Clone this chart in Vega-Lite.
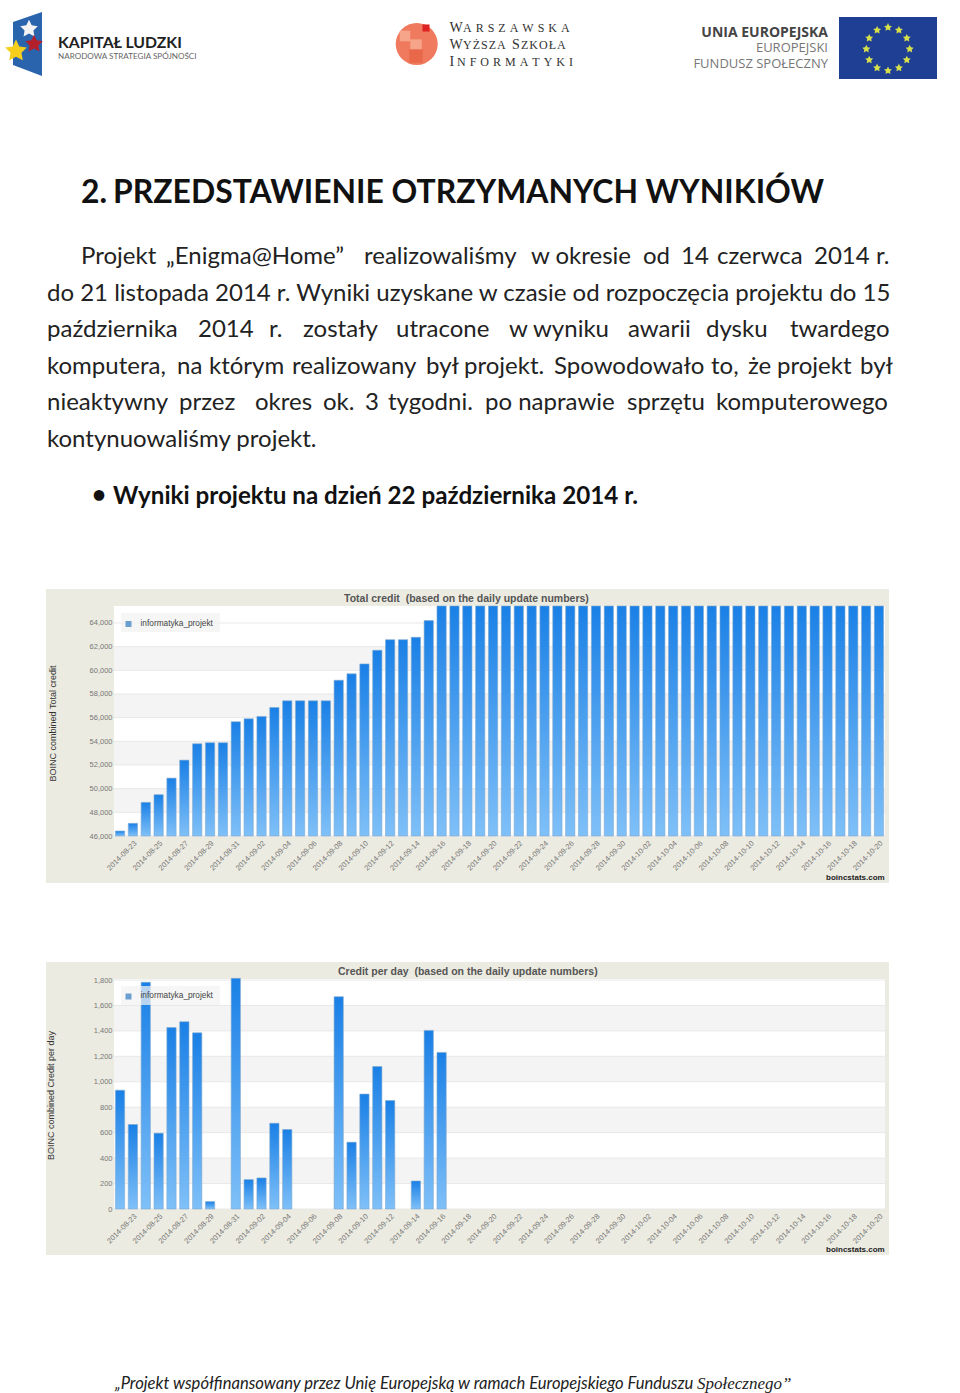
{
"$schema":"https://vega.github.io/schema/vega-lite/v6.json",
"width":960,"height":1393,"padding":0,"autosize":{"type":"none"},"background":"white",
"config":{"view":{"stroke":null}},
"datasets":{
"boxes":[
{"x0":46,"x1":889,"y0":589,"y1":883,"tone":"beige"},
{"x0":114,"x1":885,"y0":606,"y1":836,"tone":"plot"},
{"x0":46,"x1":889,"y0":962,"y1":1255,"tone":"beige"},
{"x0":114,"x1":885,"y0":979,"y1":1209,"tone":"plot"},
{"x0":839,"x1":937,"y0":17,"y1":79,"tone":"eu"}],
"bands1":[{"lo":48000,"hi":50000},{"lo":52000,"hi":54000},{"lo":56000,"hi":58000},{"lo":60000,"hi":62000}],
"bands2":[{"lo":200,"hi":400},{"lo":600,"hi":800},{"lo":1000,"hi":1200},{"lo":1400,"hi":1600}],
"ticks1":[{"v":46000},{"v":48000},{"v":50000},{"v":52000},{"v":54000},{"v":56000},{"v":58000},{"v":60000},{"v":62000},{"v":64000}],
"ticks2":[{"v":0},{"v":200},{"v":400},{"v":600},{"v":800},{"v":1000},{"v":1200},{"v":1400},{"v":1600},{"v":1800}],
"days":[
{"d":"2014-08-22","total":46420,"perday":934},{"d":"2014-08-23","total":47070,"perday":664},{"d":"2014-08-24","total":48840,"perday":1782},{"d":"2014-08-25","total":49490,"perday":596},{"d":"2014-08-26","total":50890,"perday":1426},{"d":"2014-08-27","total":52410,"perday":1472},{"d":"2014-08-28","total":53790,"perday":1385},{"d":"2014-08-29","total":53880,"perday":58},{"d":"2014-08-30","total":53880,"perday":0},{"d":"2014-08-31","total":55650,"perday":1813},
{"d":"2014-09-01","total":55900,"perday":231},{"d":"2014-09-02","total":56100,"perday":244},{"d":"2014-09-03","total":56860,"perday":674},{"d":"2014-09-04","total":57420,"perday":625},{"d":"2014-09-05","total":57420,"perday":0},{"d":"2014-09-06","total":57420,"perday":0},{"d":"2014-09-07","total":57420,"perday":0},{"d":"2014-09-08","total":59160,"perday":1669},{"d":"2014-09-09","total":59700,"perday":525},{"d":"2014-09-10","total":60540,"perday":903},
{"d":"2014-09-11","total":61690,"perday":1120},{"d":"2014-09-12","total":62590,"perday":853},{"d":"2014-09-13","total":62590,"perday":0},{"d":"2014-09-14","total":62790,"perday":220},{"d":"2014-09-15","total":64200,"perday":1404},{"d":"2014-09-16","total":65434,"perday":1231},{"d":"2014-09-17","total":65434,"perday":0},{"d":"2014-09-18","total":65434,"perday":0},{"d":"2014-09-19","total":65434,"perday":0},{"d":"2014-09-20","total":65434,"perday":0},
{"d":"2014-09-21","total":65434,"perday":0},{"d":"2014-09-22","total":65434,"perday":0},{"d":"2014-09-23","total":65434,"perday":0},{"d":"2014-09-24","total":65434,"perday":0},{"d":"2014-09-25","total":65434,"perday":0},{"d":"2014-09-26","total":65434,"perday":0},{"d":"2014-09-27","total":65434,"perday":0},{"d":"2014-09-28","total":65434,"perday":0},{"d":"2014-09-29","total":65434,"perday":0},{"d":"2014-09-30","total":65434,"perday":0},
{"d":"2014-10-01","total":65434,"perday":0},{"d":"2014-10-02","total":65434,"perday":0},{"d":"2014-10-03","total":65434,"perday":0},{"d":"2014-10-04","total":65434,"perday":0},{"d":"2014-10-05","total":65434,"perday":0},{"d":"2014-10-06","total":65434,"perday":0},{"d":"2014-10-07","total":65434,"perday":0},{"d":"2014-10-08","total":65434,"perday":0},{"d":"2014-10-09","total":65434,"perday":0},{"d":"2014-10-10","total":65434,"perday":0},
{"d":"2014-10-11","total":65434,"perday":0},{"d":"2014-10-12","total":65434,"perday":0},{"d":"2014-10-13","total":65434,"perday":0},{"d":"2014-10-14","total":65434,"perday":0},{"d":"2014-10-15","total":65434,"perday":0},{"d":"2014-10-16","total":65434,"perday":0},{"d":"2014-10-17","total":65434,"perday":0},{"d":"2014-10-18","total":65434,"perday":0},{"d":"2014-10-19","total":65434,"perday":0},{"d":"2014-10-20","total":65434,"perday":0}],
"legendBoxes":[{"x0":121,"x1":220,"y0":613,"y1":632},{"x0":121,"x1":220,"y0":986,"y1":1005}],
"flag":[{"x":13,"y":22,"y2":65},{"x":42,"y":12,"y2":76}],
"marks":[
{"x":416.7,"y":44,"tone":"disc","shape":"circle","s":1765},
{"x":405,"y":36,"tone":"pale","shape":"square","s":110},
{"x":416,"y":45,"tone":"pale","shape":"square","s":130},
{"x":416,"y":56,"tone":"deep","shape":"square","s":180},
{"x":426,"y":28,"tone":"red","shape":"square","s":50},
{"x":128.5,"y":624,"tone":"key","shape":"square","s":36},
{"x":128.5,"y":996.5,"tone":"key","shape":"square","s":36}],
"stars":[
{"x":29,"y":29,"tone":"white","s":340},{"x":34,"y":44,"tone":"red","s":340},{"x":16,"y":51,"tone":"yellow","s":520},
{"x":888,"y":27.3,"tone":"gold","s":70},{"x":898.9,"y":30.2,"tone":"gold","s":70},{"x":906.8,"y":38.1,"tone":"gold","s":70},{"x":909.7,"y":49,"tone":"gold","s":70},{"x":906.8,"y":59.9,"tone":"gold","s":70},{"x":898.9,"y":67.8,"tone":"gold","s":70},{"x":888,"y":70.7,"tone":"gold","s":70},{"x":877.1,"y":67.8,"tone":"gold","s":70},{"x":869.2,"y":59.9,"tone":"gold","s":70},{"x":866.3,"y":49,"tone":"gold","s":70},{"x":869.2,"y":38.1,"tone":"gold","s":70},{"x":877.1,"y":30.2,"tone":"gold","s":70}],
"texts":[
{"role":"heading","t":"2.","x":81,"y":193},
{"role":"heading","t":"PRZEDSTAWIENIE OTRZYMANYCH WYNIKIÓW","x":113,"y":193},
{"role":"body","t":"Projekt","x":81,"y":257},{"role":"body","t":"„Enigma@Home”","x":166,"y":257},{"role":"body","t":"realizowaliśmy","x":364,"y":257},{"role":"body","t":"w okresie","x":531,"y":257},{"role":"body","t":"od","x":643,"y":257},{"role":"body","t":"14","x":681,"y":257},{"role":"body","t":"czerwca","x":717,"y":257},{"role":"body","t":"2014","x":814,"y":257},{"role":"body","t":"r.","x":876,"y":257},
{"role":"body","t":"do 21 listopada 2014 r. Wyniki uzyskane w czasie od rozpoczęcia projektu do 15","x":47,"y":294},
{"role":"body","t":"października","x":47,"y":330},{"role":"body","t":"2014","x":198,"y":330},{"role":"body","t":"r.","x":269,"y":330},{"role":"body","t":"zostały","x":303,"y":330},{"role":"body","t":"utracone","x":396,"y":330},{"role":"body","t":"w wyniku","x":509,"y":330},{"role":"body","t":"awarii","x":628,"y":330},{"role":"body","t":"dysku","x":706,"y":330},{"role":"body","t":"twardego","x":790,"y":330},
{"role":"body","t":"komputera,","x":47,"y":367},{"role":"body","t":"na","x":177,"y":367},{"role":"body","t":"którym","x":209,"y":367},{"role":"body","t":"realizowany","x":292,"y":367},{"role":"body","t":"był","x":426,"y":367},{"role":"body","t":"projekt.","x":464,"y":367},{"role":"body","t":"Spowodowało","x":554,"y":367},{"role":"body","t":"to,","x":711,"y":367},{"role":"body","t":"że","x":748,"y":367},{"role":"body","t":"projekt","x":777,"y":367},{"role":"body","t":"był","x":860,"y":367},
{"role":"body","t":"nieaktywny","x":47,"y":403},{"role":"body","t":"przez","x":179,"y":403},{"role":"body","t":"okres","x":255,"y":403},{"role":"body","t":"ok.","x":323,"y":403},{"role":"body","t":"3","x":365,"y":403},{"role":"body","t":"tygodni.","x":388,"y":403},{"role":"body","t":"po naprawie","x":485,"y":403},{"role":"body","t":"sprzętu","x":627,"y":403},{"role":"body","t":"komputerowego","x":716,"y":403},
{"role":"body","t":"kontynuowaliśmy projekt.","x":47,"y":440},
{"role":"bullet","t":"•","x":92,"y":496},
{"role":"bullet","t":"Wyniki projektu na dzień 22 października 2014 r.","x":113,"y":497},
{"role":"footer","t":"„Projekt współfinansowany przez Unię Europejską w ramach Europejskiego Funduszu","x":115,"y":1384},
{"role":"footerSerif","t":"Społecznego”","x":697,"y":1384},
{"role":"chartTitle","t":"Total credit \u00a0(based on the daily update numbers)","x":344,"y":599},
{"role":"chartTitle","t":"Credit per day \u00a0(based on the daily update numbers)","x":338,"y":971.5},
{"role":"key","t":"informatyka_projekt","x":140.5,"y":623.5},
{"role":"key","t":"informatyka_projekt","x":140.5,"y":996},
{"role":"source","t":"boincstats.com","x":826,"y":877.5},
{"role":"source","t":"boincstats.com","x":826,"y":1250},
{"role":"kl","t":"KAPITAŁ LUDZKI","x":58,"y":42.5},
{"role":"kls","t":"NARODOWA STRATEGIA SPÓJNOŚCI","x":58,"y":56.5},
{"role":"capBig","t":"W","x":449.5,"y":28},{"role":"capSmall","t":"A\u2004R\u2004S\u2004Z\u2004A\u2004W\u2004S\u2004K\u2004A","x":463,"y":28},
{"role":"capBig","t":"W","x":449.5,"y":45},{"role":"capSmall","t":"Y\u200aŻ\u200aS\u200aZ\u200aA","x":463,"y":45},{"role":"capBig","t":"S","x":512,"y":45},{"role":"capSmall","t":"Z\u200aK\u200aO\u200aŁ\u200aA","x":521,"y":45},
{"role":"capBig","t":"I","x":449.5,"y":62},{"role":"capSmall","t":"N\u2004F\u2004O\u2004R\u2004M\u2004A\u2004T\u2004Y\u2004K\u2004I","x":457,"y":62},
{"role":"euBold","t":"UNIA EUROPEJSKA","x":828,"y":33},
{"role":"euLight","t":"EUROPEJSKI","x":828,"y":48},
{"role":"euLight","t":"FUNDUSZ SPOŁECZNY","x":828,"y":63.5}
]},
"resolve":{"scale":{"x":"independent","y":"independent","color":"independent","shape":"independent","size":"independent"}},
"layer":[
{"data":{"name":"boxes"},"mark":{"type":"rect"},"encoding":{
"x":{"field":"x0","type":"quantitative","scale":{"domain":[0,960],"range":[0,960]},"axis":null},"x2":{"field":"x1"},
"y":{"field":"y0","type":"quantitative","scale":{"domain":[0,1393],"range":[0,1393]},"axis":null},"y2":{"field":"y1"},
"color":{"field":"tone","type":"nominal","legend":null,"scale":{"domain":["beige","plot","eu"],"range":["#ecebe1","#ffffff","#1f3f95"]}}}},
{"data":{"name":"bands1"},"mark":{"type":"rect","color":"#f4f4f4"},"encoding":{
"x":{"datum":114,"type":"quantitative","scale":{"domain":[0,960],"range":[0,960]},"axis":null},"x2":{"datum":885},
"y":{"field":"lo","type":"quantitative","scale":{"domain":[46000,65434],"range":[836,606]},"axis":null},"y2":{"field":"hi"}}},
{"data":{"name":"ticks1"},"mark":{"type":"rule","color":"#e8e8e8","strokeWidth":1},"encoding":{
"x":{"datum":114,"type":"quantitative","scale":{"domain":[0,960],"range":[0,960]},"axis":null},"x2":{"datum":885},
"y":{"field":"v","type":"quantitative","scale":{"domain":[46000,65434],"range":[836,606]},"axis":null}}},
{"data":{"name":"days"},"mark":{"type":"bar","stroke":"#7fa9cf","strokeWidth":0.6,"color":{"gradient":"linear","x1":0,"y1":0,"x2":0,"y2":1,"stops":[{"offset":0,"color":"#1a80e6"},{"offset":1,"color":"#7fc0f8"}]}},"encoding":{
"x":{"field":"d","type":"ordinal","sort":null,"scale":{"range":[113.6,885.4],"paddingInner":0.28,"paddingOuter":0.14},
"axis":{"orient":"bottom","offset":-557,"zindex":1,"title":null,"domain":false,"ticks":false,"labelAngle":-45,"labelAlign":"right","labelBaseline":"top","labelPadding":3,"labelFont":"Liberation Sans","labelFontSize":7.5,"labelColor":"#777777","labelOverlap":false,"grid":false,
"values":["2014-08-23","2014-08-25","2014-08-27","2014-08-29","2014-08-31","2014-09-02","2014-09-04","2014-09-06","2014-09-08","2014-09-10","2014-09-12","2014-09-14","2014-09-16","2014-09-18","2014-09-20","2014-09-22","2014-09-24","2014-09-26","2014-09-28","2014-09-30","2014-10-02","2014-10-04","2014-10-06","2014-10-08","2014-10-10","2014-10-12","2014-10-14","2014-10-16","2014-10-18","2014-10-20"]}},
"y":{"field":"total","type":"quantitative","scale":{"domain":[46000,65434],"range":[836,606]},
"axis":{"orient":"left","offset":-114,"zindex":1,"title":"BOINC combined Total credit","titleX":-62,"titleY":723,"titleAngle":-90,"titleAlign":"center","titleBaseline":"middle","titleFont":"Liberation Sans","titleFontSize":9,"titleFontWeight":"normal","titleColor":"#333333","domain":false,"ticks":false,"grid":false,"labelPadding":2,"labelFont":"Liberation Sans","labelFontSize":7.5,"labelColor":"#777777","format":",d","values":[46000,48000,50000,52000,54000,56000,58000,60000,62000,64000]}},
"y2":{"datum":46000}}},
{"data":{"name":"bands2"},"mark":{"type":"rect","color":"#f4f4f4"},"encoding":{
"x":{"datum":114,"type":"quantitative","scale":{"domain":[0,960],"range":[0,960]},"axis":null},"x2":{"datum":885},
"y":{"field":"lo","type":"quantitative","scale":{"domain":[0,1800],"range":[1209,980]},"axis":null},"y2":{"field":"hi"}}},
{"data":{"name":"ticks2"},"mark":{"type":"rule","color":"#e8e8e8","strokeWidth":1},"encoding":{
"x":{"datum":114,"type":"quantitative","scale":{"domain":[0,960],"range":[0,960]},"axis":null},"x2":{"datum":885},
"y":{"field":"v","type":"quantitative","scale":{"domain":[0,1800],"range":[1209,980]},"axis":null}}},
{"data":{"name":"days"},"transform":[{"filter":"datum.perday > 0"}],"mark":{"type":"bar","stroke":"#7fa9cf","strokeWidth":0.6,"color":{"gradient":"linear","x1":0,"y1":0,"x2":0,"y2":1,"stops":[{"offset":0,"color":"#1a80e6"},{"offset":1,"color":"#7fc0f8"}]}},"encoding":{
"x":{"field":"d","type":"ordinal","sort":null,"scale":{"domain":["2014-08-22","2014-08-23","2014-08-24","2014-08-25","2014-08-26","2014-08-27","2014-08-28","2014-08-29","2014-08-30","2014-08-31","2014-09-01","2014-09-02","2014-09-03","2014-09-04","2014-09-05","2014-09-06","2014-09-07","2014-09-08","2014-09-09","2014-09-10","2014-09-11","2014-09-12","2014-09-13","2014-09-14","2014-09-15","2014-09-16","2014-09-17","2014-09-18","2014-09-19","2014-09-20","2014-09-21","2014-09-22","2014-09-23","2014-09-24","2014-09-25","2014-09-26","2014-09-27","2014-09-28","2014-09-29","2014-09-30","2014-10-01","2014-10-02","2014-10-03","2014-10-04","2014-10-05","2014-10-06","2014-10-07","2014-10-08","2014-10-09","2014-10-10","2014-10-11","2014-10-12","2014-10-13","2014-10-14","2014-10-15","2014-10-16","2014-10-17","2014-10-18","2014-10-19","2014-10-20"],"range":[113.6,885.4],"paddingInner":0.28,"paddingOuter":0.14},
"axis":{"orient":"bottom","offset":-184,"zindex":1,"title":null,"domain":false,"ticks":false,"labelAngle":-45,"labelAlign":"right","labelBaseline":"top","labelPadding":3,"labelFont":"Liberation Sans","labelFontSize":7.5,"labelColor":"#777777","labelOverlap":false,"grid":false,
"values":["2014-08-23","2014-08-25","2014-08-27","2014-08-29","2014-08-31","2014-09-02","2014-09-04","2014-09-06","2014-09-08","2014-09-10","2014-09-12","2014-09-14","2014-09-16","2014-09-18","2014-09-20","2014-09-22","2014-09-24","2014-09-26","2014-09-28","2014-09-30","2014-10-02","2014-10-04","2014-10-06","2014-10-08","2014-10-10","2014-10-12","2014-10-14","2014-10-16","2014-10-18","2014-10-20"]}},
"y":{"field":"perday","type":"quantitative","scale":{"domain":[0,1800],"range":[1209,980]},
"axis":{"orient":"left","offset":-114,"zindex":1,"title":"BOINC combined Credit per day","titleX":-64,"titleY":1095,"titleAngle":-90,"titleAlign":"center","titleBaseline":"middle","titleFont":"Liberation Sans","titleFontSize":9,"titleFontWeight":"normal","titleColor":"#333333","domain":false,"ticks":false,"grid":false,"labelPadding":2,"labelFont":"Liberation Sans","labelFontSize":7.5,"labelColor":"#777777","format":",d","values":[0,200,400,600,800,1000,1200,1400,1600,1800]}},
"y2":{"datum":0}}},
{"data":{"name":"legendBoxes"},"mark":{"type":"rect","color":"#f2f2f2","opacity":0.72},"encoding":{
"x":{"field":"x0","type":"quantitative","scale":{"domain":[0,960],"range":[0,960]},"axis":null},"x2":{"field":"x1"},
"y":{"field":"y0","type":"quantitative","scale":{"domain":[0,1393],"range":[0,1393]},"axis":null},"y2":{"field":"y1"}}},
{"data":{"name":"flag"},"mark":{"type":"area","orient":"vertical","color":"#2a64ad"},"encoding":{
"x":{"field":"x","type":"quantitative","scale":{"domain":[0,960],"range":[0,960]},"axis":null},
"y":{"field":"y","type":"quantitative","scale":{"domain":[0,1393],"range":[0,1393]},"axis":null},"y2":{"field":"y2"}}},
{"data":{"name":"marks"},"mark":{"type":"point","filled":true,"opacity":1},"encoding":{
"x":{"field":"x","type":"quantitative","scale":{"domain":[0,960],"range":[0,960]},"axis":null},
"y":{"field":"y","type":"quantitative","scale":{"domain":[0,1393],"range":[0,1393]},"axis":null},
"shape":{"field":"shape","type":"nominal","legend":null,"scale":{"domain":["circle","square"],"range":["circle","square"]}},
"size":{"field":"s","type":"quantitative","legend":null,"scale":{"domain":[0,2000],"range":[0,2000]}},
"color":{"field":"tone","type":"nominal","legend":null,"scale":{"domain":["disc","pale","deep","red","key"],"range":["#ef7a5e","#f6a58b","#e9684a","#dd2222","#6a9fd0"]}}}},
{"data":{"name":"stars"},"mark":{"type":"point","filled":true,"opacity":1,"shape":"M0,-1L0.29,-0.4L0.95,-0.31L0.48,0.15L0.59,0.81L0,0.5L-0.59,0.81L-0.48,0.15L-0.95,-0.31L-0.29,-0.4Z"},"encoding":{
"x":{"field":"x","type":"quantitative","scale":{"domain":[0,960],"range":[0,960]},"axis":null},
"y":{"field":"y","type":"quantitative","scale":{"domain":[0,1393],"range":[0,1393]},"axis":null},
"size":{"field":"s","type":"quantitative","legend":null,"scale":{"domain":[0,2000],"range":[0,2000]}},
"color":{"field":"tone","type":"nominal","legend":null,"scale":{"domain":["white","red","yellow","gold"],"range":["#f4f4f4","#b3202c","#f5cf1c","#d6e04a"]}}}},
{"data":{"name":"texts"},"transform":[{"filter":"datum.role == 'heading'"}],"mark":{"type":"text","align":"left","baseline":"middle","font":"Lato","fontSize":31.9,"fontWeight":"bold","color":"#111111"},"encoding":{"text":{"field":"t"},"x":{"field":"x","type":"quantitative","scale":{"domain":[0,960],"range":[0,960]},"axis":null},"y":{"field":"y","type":"quantitative","scale":{"domain":[0,1393],"range":[0,1393]},"axis":null}}},
{"data":{"name":"texts"},"transform":[{"filter":"datum.role == 'body'"}],"mark":{"type":"text","align":"left","baseline":"middle","font":"Lato","fontSize":24,"color":"#222222"},"encoding":{"text":{"field":"t"},"x":{"field":"x","type":"quantitative","scale":{"domain":[0,960],"range":[0,960]},"axis":null},"y":{"field":"y","type":"quantitative","scale":{"domain":[0,1393],"range":[0,1393]},"axis":null}}},
{"data":{"name":"texts"},"transform":[{"filter":"datum.role == 'bullet'"}],"mark":{"type":"text","align":"left","baseline":"middle","font":"Lato","fontSize":24.2,"fontWeight":"bold","color":"#111111"},"encoding":{"text":{"field":"t"},"x":{"field":"x","type":"quantitative","scale":{"domain":[0,960],"range":[0,960]},"axis":null},"y":{"field":"y","type":"quantitative","scale":{"domain":[0,1393],"range":[0,1393]},"axis":null}}},
{"data":{"name":"texts"},"transform":[{"filter":"datum.role == 'footer'"}],"mark":{"type":"text","align":"left","baseline":"middle","font":"Lato","fontSize":16.6,"fontStyle":"italic","color":"#222222"},"encoding":{"text":{"field":"t"},"x":{"field":"x","type":"quantitative","scale":{"domain":[0,960],"range":[0,960]},"axis":null},"y":{"field":"y","type":"quantitative","scale":{"domain":[0,1393],"range":[0,1393]},"axis":null}}},
{"data":{"name":"texts"},"transform":[{"filter":"datum.role == 'footerSerif'"}],"mark":{"type":"text","align":"left","baseline":"middle","font":"Liberation Serif","fontSize":17,"fontStyle":"italic","color":"#222222"},"encoding":{"text":{"field":"t"},"x":{"field":"x","type":"quantitative","scale":{"domain":[0,960],"range":[0,960]},"axis":null},"y":{"field":"y","type":"quantitative","scale":{"domain":[0,1393],"range":[0,1393]},"axis":null}}},
{"data":{"name":"texts"},"transform":[{"filter":"datum.role == 'chartTitle'"}],"mark":{"type":"text","align":"left","baseline":"middle","font":"Liberation Sans","fontSize":10.5,"fontWeight":"bold","color":"#555555"},"encoding":{"text":{"field":"t"},"x":{"field":"x","type":"quantitative","scale":{"domain":[0,960],"range":[0,960]},"axis":null},"y":{"field":"y","type":"quantitative","scale":{"domain":[0,1393],"range":[0,1393]},"axis":null}}},
{"data":{"name":"texts"},"transform":[{"filter":"datum.role == 'key'"}],"mark":{"type":"text","align":"left","baseline":"middle","font":"Liberation Sans","fontSize":8.3,"color":"#444444"},"encoding":{"text":{"field":"t"},"x":{"field":"x","type":"quantitative","scale":{"domain":[0,960],"range":[0,960]},"axis":null},"y":{"field":"y","type":"quantitative","scale":{"domain":[0,1393],"range":[0,1393]},"axis":null}}},
{"data":{"name":"texts"},"transform":[{"filter":"datum.role == 'source'"}],"mark":{"type":"text","align":"left","baseline":"middle","font":"Liberation Sans","fontSize":8,"fontWeight":"bold","color":"#222222"},"encoding":{"text":{"field":"t"},"x":{"field":"x","type":"quantitative","scale":{"domain":[0,960],"range":[0,960]},"axis":null},"y":{"field":"y","type":"quantitative","scale":{"domain":[0,1393],"range":[0,1393]},"axis":null}}},
{"data":{"name":"texts"},"transform":[{"filter":"datum.role == 'kl'"}],"mark":{"type":"text","align":"left","baseline":"middle","font":"Lato","fontSize":15.8,"fontWeight":"bold","color":"#222222"},"encoding":{"text":{"field":"t"},"x":{"field":"x","type":"quantitative","scale":{"domain":[0,960],"range":[0,960]},"axis":null},"y":{"field":"y","type":"quantitative","scale":{"domain":[0,1393],"range":[0,1393]},"axis":null}}},
{"data":{"name":"texts"},"transform":[{"filter":"datum.role == 'kls'"}],"mark":{"type":"text","align":"left","baseline":"middle","font":"Lato","fontSize":8.1,"color":"#666666"},"encoding":{"text":{"field":"t"},"x":{"field":"x","type":"quantitative","scale":{"domain":[0,960],"range":[0,960]},"axis":null},"y":{"field":"y","type":"quantitative","scale":{"domain":[0,1393],"range":[0,1393]},"axis":null}}},
{"data":{"name":"texts"},"transform":[{"filter":"datum.role == 'capBig'"}],"mark":{"type":"text","align":"left","baseline":"middle","font":"Liberation Serif","fontSize":14,"color":"#333333"},"encoding":{"text":{"field":"t"},"x":{"field":"x","type":"quantitative","scale":{"domain":[0,960],"range":[0,960]},"axis":null},"y":{"field":"y","type":"quantitative","scale":{"domain":[0,1393],"range":[0,1393]},"axis":null}}},
{"data":{"name":"texts"},"transform":[{"filter":"datum.role == 'capSmall'"}],"mark":{"type":"text","align":"left","baseline":"middle","font":"Liberation Serif","fontSize":12,"color":"#333333"},"encoding":{"text":{"field":"t"},"x":{"field":"x","type":"quantitative","scale":{"domain":[0,960],"range":[0,960]},"axis":null},"y":{"field":"y","type":"quantitative","scale":{"domain":[0,1393],"range":[0,1393]},"axis":null}}},
{"data":{"name":"texts"},"transform":[{"filter":"datum.role == 'euBold'"}],"mark":{"type":"text","align":"right","baseline":"middle","font":"Open Sans","fontSize":14,"fontWeight":"bold","color":"#444444"},"encoding":{"text":{"field":"t"},"x":{"field":"x","type":"quantitative","scale":{"domain":[0,960],"range":[0,960]},"axis":null},"y":{"field":"y","type":"quantitative","scale":{"domain":[0,1393],"range":[0,1393]},"axis":null}}},
{"data":{"name":"texts"},"transform":[{"filter":"datum.role == 'euLight'"}],"mark":{"type":"text","align":"right","baseline":"middle","font":"Open Sans","fontSize":13,"color":"#777777"},"encoding":{"text":{"field":"t"},"x":{"field":"x","type":"quantitative","scale":{"domain":[0,960],"range":[0,960]},"axis":null},"y":{"field":"y","type":"quantitative","scale":{"domain":[0,1393],"range":[0,1393]},"axis":null}}}
]
}
